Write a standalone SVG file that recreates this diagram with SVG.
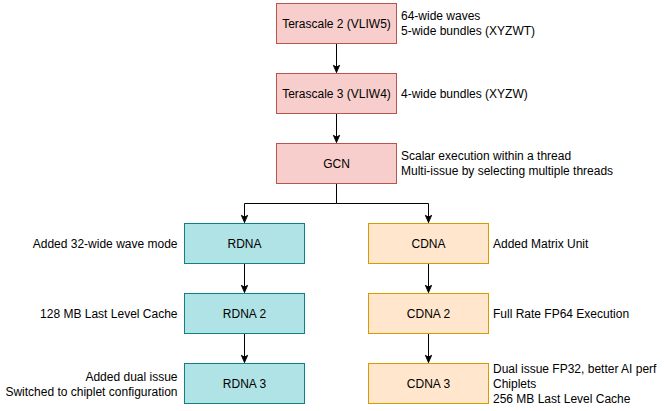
<svg xmlns="http://www.w3.org/2000/svg" width="664" height="411" viewBox="0 0 664 411">
<style>
.pink{fill:#f8cecc;stroke:#b85450;stroke-width:1}
.teal{fill:#b0e3e6;stroke:#0e8088;stroke-width:1}
.orange{fill:#ffe6cc;stroke:#d79b00;stroke-width:1}
text{font-family:"Liberation Sans",Arial,sans-serif;font-size:12px;fill:#000}
.c{text-anchor:middle}
.e{text-anchor:end}
.edge{fill:none;stroke:#000;stroke-width:1;marker-end:url(#arr)}
</style>
<defs>
<marker id="arr" viewBox="0 0 10 10" refX="9" refY="5" markerWidth="9" markerHeight="9" markerUnits="userSpaceOnUse" orient="auto">
<path d="M1,1.5 L9,5 L1,8.5 L3,5 z" fill="#000" stroke="#000" stroke-width="1"/>
</marker>
</defs>
<rect width="664" height="411" fill="#fff"/>
<g id="connectors">
<path class="edge" d="M336.5,43.5 V72.5"/>
<path class="edge" d="M336.5,113.5 V142.5"/>
<path class="edge" d="M336.5,183.5 V203.5 H244.5 V222.5"/>
<path class="edge" d="M336.5,203.5 H428.5 V222.5"/>
<path class="edge" d="M244.5,263.5 V292.5"/>
<path class="edge" d="M244.5,333.5 V362.5"/>
<path class="edge" d="M428.5,263.5 V292.5"/>
<path class="edge" d="M428.5,333.5 V362.5"/>
</g>
<g id="terascale2">
<rect class="pink" x="276.5" y="3.5" width="120" height="40"/>
<text class="c" x="336.5" y="27.5">Terascale 2 (VLIW5)</text>
<text x="401" y="20">64-wide waves</text>
<text x="401" y="35">5-wide bundles (XYZWT)</text>
</g>
<g id="terascale3">
<rect class="pink" x="276.5" y="73.5" width="120" height="40"/>
<text class="c" x="336.5" y="97.5">Terascale 3 (VLIW4)</text>
<text x="401" y="97.5">4-wide bundles (XYZW)</text>
</g>
<g id="gcn">
<rect class="pink" x="276.5" y="143.5" width="120" height="40"/>
<text class="c" x="336.5" y="167.5">GCN</text>
<text x="401" y="160">Scalar execution within a thread</text>
<text x="401" y="175">Multi-issue by selecting multiple threads</text>
</g>
<g id="rdna">
<rect class="teal" x="184.5" y="223.5" width="120" height="40"/>
<text class="c" x="244.5" y="247.5">RDNA</text>
<text class="e" x="177.5" y="247.5">Added 32-wide wave mode</text>
</g>
<g id="rdna2">
<rect class="teal" x="184.5" y="293.5" width="120" height="40"/>
<text class="c" x="244.5" y="317.5">RDNA 2</text>
<text class="e" x="177.5" y="317.5">128 MB Last Level Cache</text>
</g>
<g id="rdna3">
<rect class="teal" x="184.5" y="363.5" width="120" height="40"/>
<text class="c" x="244.5" y="387.5">RDNA 3</text>
<text class="e" x="177.5" y="380.5">Added dual issue</text>
<text class="e" x="177.5" y="395.5">Switched to chiplet configuration</text>
</g>
<g id="cdna">
<rect class="orange" x="368.5" y="223.5" width="120" height="40"/>
<text class="c" x="428.5" y="247.5">CDNA</text>
<text x="493" y="247.5">Added Matrix Unit</text>
</g>
<g id="cdna2">
<rect class="orange" x="368.5" y="293.5" width="120" height="40"/>
<text class="c" x="428.5" y="317.5">CDNA 2</text>
<text x="493" y="317.5">Full Rate FP64 Execution</text>
</g>
<g id="cdna3">
<rect class="orange" x="368.5" y="363.5" width="120" height="40"/>
<text class="c" x="428.5" y="387.5">CDNA 3</text>
<text x="493" y="373">Dual issue FP32, better AI perf</text>
<text x="493" y="388">Chiplets</text>
<text x="493" y="403">256 MB Last Level Cache</text>
</g>
</svg>
